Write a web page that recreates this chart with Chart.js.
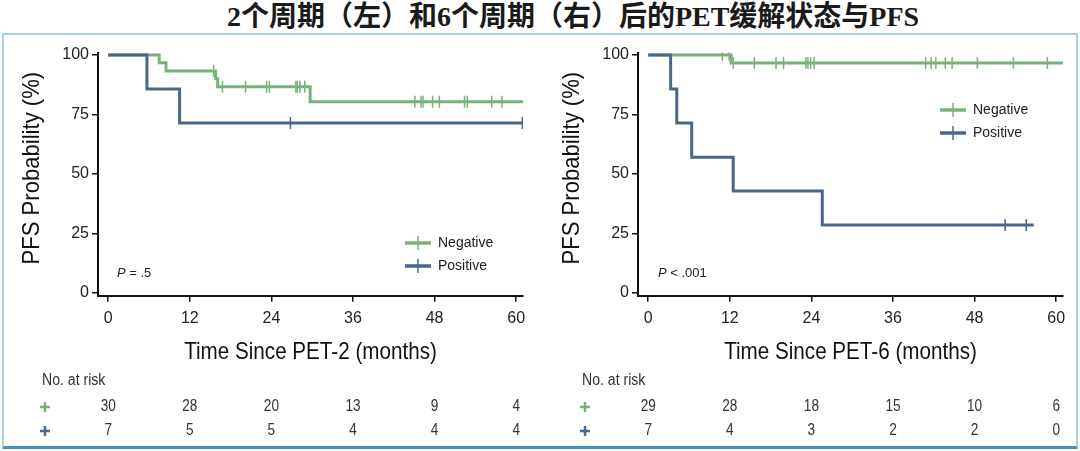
<!DOCTYPE html>
<html>
<head>
<meta charset="utf-8">
<script src="https://cdn.jsdelivr.net/npm/chart.js@4.4.1/dist/chart.umd.min.js"></script>
<style>
body { margin: 0; width: 1080px; height: 451px; background: #fff; position: relative; overflow: hidden; }
#title { position: absolute; top: 0; left: 0; width: 1146px; text-align: center; font: 700 28px "Liberation Serif", "Noto Sans CJK SC", serif; line-height: 33px; color: #1a1a1a; }
#frame { position: absolute; left: 2px; top: 33px; width: 1072px; height: 411px; border: 2px solid #a9d3e3; border-bottom: 3px solid #3d93bf; }
.box { position: absolute; top: 34px; width: 540px; height: 410px; }
</style>
</head>
<body>
<div id="title">2个周期（左）和6个周期（右）后的PET缓解状态与PFS</div>
<div id="frame"></div>
<div class="box" style="left:0"><canvas id="left"></canvas></div>
<div class="box" style="left:540px"><canvas id="right"></canvas></div>
<script>
// Kaplan-Meier curves (months, PFS %)
const pet2NegTimes = [0, 7.5, 8.5, 15.8, 16.1, 29.7, 61.0];
const pet2NegSurv  = [100, 96.7, 93.3, 90.0, 86.7, 80.4, 80.4];
const pet2PosTimes = [0, 5.7, 10.5, 60.9];
const pet2PosSurv  = [100, 85.7, 71.4, 71.4];
const pet2NegCensor = [15.5, 16.8, 20.2, 23.3, 23.7, 27.6, 27.8, 28.2, 28.9, 45.1, 46.0, 46.3, 47.7, 48.7, 52.4, 52.8, 56.4, 57.9];
const pet2PosCensor = [26.8, 60.9];

const pet6NegTimes = [0, 12.2, 61.0];
const pet6NegSurv  = [100, 96.6, 96.6];
const pet6PosTimes = [0, 3.3, 4.2, 6.4, 12.5, 25.6, 56.7];
const pet6PosSurv  = [100, 85.7, 71.4, 57.1, 42.9, 28.6, 28.6];
const pet6NegCensor = [10.9, 11.9, 12.5, 15.6, 18.8, 19.9, 23.2, 23.5, 23.9, 24.4, 40.8, 41.6, 42.3, 43.7, 44.7, 48.4, 53.7, 58.7];
const pet6PosCensor = [52.5, 55.6];

// numbers at risk
const riskTimes = [0, 12, 24, 36, 48, 60];
const pet2NegRisk = [30, 28, 20, 13, 9, 4];
const pet2PosRisk = [7, 5, 5, 4, 4, 4];
const pet6NegRisk = [29, 28, 18, 15, 10, 6];
const pet6PosRisk = [7, 4, 3, 2, 2, 0];

const xTicks = [0, 12, 24, 36, 48, 60];
const yTicks = [0, 25, 50, 75, 100];

const GREEN = '#79b07b';
const BLUE = '#4b6686';
const SANS = '"Liberation Sans", Arial, sans-serif';

// survival at time t from the step function
function survAt(times, surv, t) {
    let s = surv[0];
    for (let i = 0; i < times.length; i++) if (times[i] <= t) s = surv[i];
    return s;
}
const pts = (times, surv) => times.map((t, i) => ({ x: t, y: surv[i] }));
const censorPts = (cens, times, surv) => cens.map(t => ({ x: t, y: survAt(times, surv, t) }));

function drawPlus(ctx, x, y, r, color, w) {
    ctx.strokeStyle = color; ctx.lineWidth = w;
    ctx.beginPath();
    ctx.moveTo(x - r, y); ctx.lineTo(x + r, y);
    ctx.moveTo(x, y - r); ctx.lineTo(x, y + r);
    ctx.stroke();
}

// narrow text: the figure uses a condensed face, so squeeze a regular one
function narrowText(ctx, text, x, y, size, sx, rot) {
    ctx.save();
    ctx.translate(x, y);
    if (rot) ctx.rotate(rot);
    ctx.scale(sx, 1);
    ctx.font = size + 'px ' + SANS;
    ctx.fillText(text, 0, 0);
    ctx.restore();
}

// axis titles, legend, P value and risk table
const extras = {
    id: 'extras',
    afterDraw(chart, args, o) {
        const ctx = chart.ctx, xs = chart.scales.x, area = chart.chartArea;
        ctx.save();
        ctx.textBaseline = 'middle';
        ctx.textAlign = 'center';
        ctx.fillStyle = '#111';
        // axis titles
        narrowText(ctx, o.xTitle, (area.left + area.right) / 2, area.bottom + 57, 24, 0.86);
        narrowText(ctx, 'PFS Probability (%)', 32, (area.top + area.bottom) / 2 - 6, 24, 0.92, -Math.PI / 2);
        // legend
        ctx.textAlign = 'left';
        [[GREEN, 'Negative'], [BLUE, 'Positive']].forEach(([c, label], i) => {
            const y = o.legendY + i * 23, x0 = o.legendX;
            ctx.strokeStyle = c; ctx.lineWidth = 3.5;
            ctx.beginPath(); ctx.moveTo(x0, y); ctx.lineTo(x0 + 26, y); ctx.stroke();
            ctx.lineWidth = 1.5;
            ctx.beginPath(); ctx.moveTo(x0 + 13, y - 7); ctx.lineTo(x0 + 13, y + 7); ctx.stroke();
            ctx.fillStyle = '#222'; ctx.font = '14px ' + SANS;
            ctx.fillText(label, x0 + 33, y);
        });
        // P value
        ctx.fillStyle = '#222';
        ctx.font = 'italic 13px ' + SANS;
        ctx.fillText('P', o.pX, o.pY);
        const w = ctx.measureText('P').width;
        ctx.font = '13px ' + SANS;
        ctx.fillText(' ' + o.pText, o.pX + w, o.pY);
        // risk table
        ctx.fillStyle = '#333';
        narrowText(ctx, 'No. at risk', 42, o.riskY, 16, 0.88);
        ctx.textAlign = 'center';
        [[GREEN, o.negRisk], [BLUE, o.posRisk]].forEach(([c, vals], i) => {
            const y = o.riskY + 26 + i * 24;
            drawPlus(ctx, 45, y, 5, c, 2.5);
            ctx.fillStyle = '#333';
            vals.forEach((v, j) => narrowText(ctx, String(v), xs.getPixelForValue(riskTimes[j]), y, 16, 0.85));
        });
        ctx.restore();
    }
};

function axisStyle(pad) {
    return {
        type: 'linear',
        ticks: { color: '#222', font: { size: 16, family: SANS }, padding: pad, maxRotation: 0, autoSkip: false },
        grid: { display: true, drawOnChartArea: false, drawTicks: true, tickLength: 6, color: '#111', lineWidth: 1.5 },
        border: { display: true, color: '#111', width: 2 }
    };
}

function makeChart(id, d) {
    const xAxis = axisStyle(7);
    Object.assign(xAxis, {
        min: -1.5, max: 61,
        afterBuildTicks: s => { s.ticks = xTicks.map(v => ({ value: v })); },
        afterFit: s => { s.height = 74; }
    });
    const yAxis = axisStyle(3);
    Object.assign(yAxis, {
        min: -1.1, max: 101,
        afterBuildTicks: s => { s.ticks = yTicks.map(v => ({ value: v })); },
        afterFit: s => { s.width = 98; }
    });
    return new Chart(document.getElementById(id), {
        type: 'line',
        data: {
            datasets: [
                { data: pts(d.posTimes, d.posSurv), borderColor: BLUE, borderWidth: 3, stepped: 'before', pointRadius: 0, fill: false },
                { data: pts(d.negTimes, d.negSurv), borderColor: GREEN, borderWidth: 3, stepped: 'before', pointRadius: 0, fill: false },
                { data: censorPts(d.posCensor, d.posTimes, d.posSurv), showLine: false, pointStyle: 'line', rotation: 90, pointRadius: 6, borderColor: BLUE, borderWidth: 1.5 },
                { data: censorPts(d.negCensor, d.negTimes, d.negSurv), showLine: false, pointStyle: 'line', rotation: 90, pointRadius: 6, borderColor: GREEN, borderWidth: 1.5 }
            ]
        },
        options: {
            responsive: true,
            maintainAspectRatio: false,
            animation: false,
            layout: { padding: { top: 18.6, right: 17, bottom: 74.3, left: 0 } },
            scales: { x: xAxis, y: yAxis },
            plugins: {
                legend: { display: false },
                tooltip: { enabled: false },
                extras: d.extras
            }
        },
        plugins: [extras]
    });
}

makeChart('left', {
    negTimes: pet2NegTimes, negSurv: pet2NegSurv, posTimes: pet2PosTimes, posSurv: pet2PosSurv,
    negCensor: pet2NegCensor, posCensor: pet2PosCensor,
    extras: { xTitle: 'Time Since PET-2 (months)', legendX: 405, legendY: 209, pX: 117, pY: 239, pText: '= .5', riskY: 347, negRisk: pet2NegRisk, posRisk: pet2PosRisk }
});
makeChart('right', {
    negTimes: pet6NegTimes, negSurv: pet6NegSurv, posTimes: pet6PosTimes, posSurv: pet6PosSurv,
    negCensor: pet6NegCensor, posCensor: pet6PosCensor,
    extras: { xTitle: 'Time Since PET-6 (months)', legendX: 400, legendY: 76, pX: 118, pY: 239, pText: '< .001', riskY: 347, negRisk: pet6NegRisk, posRisk: pet6PosRisk }
});
</script>
</body>
</html>
